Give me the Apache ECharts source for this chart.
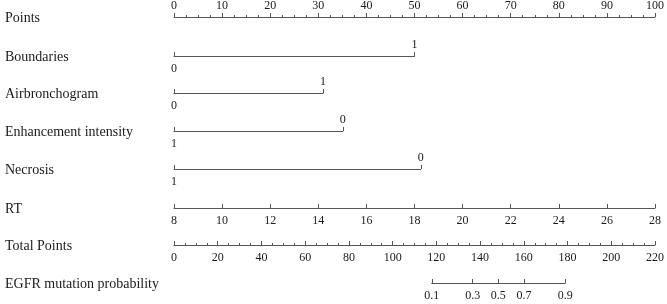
<!DOCTYPE html>
<html><head><meta charset="utf-8">
<script src="https://cdn.jsdelivr.net/npm/echarts@6/dist/echarts.min.js"></script>
<style>html,body{margin:0;padding:0;background:#fff}#c{width:667px;height:304px}</style>
</head><body><div id="c"></div>
<script>
// ---- data ----
const rowNames = ['Points','Boundaries','Airbronchogram','Enhancement intensity','Necrosis','RT','Total Points','EGFR mutation probability'];
const pointsRange = [0, 100];
const pointsInterval = 10;
const boundariesLevels = ['0','1'];
const boundariesPoints = [0, 50];
const airbronchogramLevels = ['0','1'];
const airbronchogramPoints = [0, 31.0];
const enhancementLevels = ['0','1'];
const enhancementPoints = [35.1, 0];
const necrosisLevels = ['0','1'];
const necrosisPoints = [51.3, 0];
const rtRange = [8, 28];          // RT 8 -> 0 points, 28 -> 100 points
const rtInterval = 2;
const totalPointsRange = [0, 220];
const totalInterval = 20;
const egfrProbLabels = ['0.1','0.3','0.5','0.7','0.9'];
const egfrTotalPoints = [117.9, 136.6, 148.3, 160.1, 178.9];

// ---- layout ----
const L = 174, W = 481;
const lineY = [17, 56, 93, 131, 169, 208, 245, 283];
const FONT = '"Liberation Serif", "Times New Roman", serif';
const LINE = '#555', TXT = '#1a1a1a';
const tickLbl = {fontFamily: FONT, fontSize: 12, color: TXT};

const grids = [], xAxes = [], yAxes = [];
function addGrid(left, top, width) {
  grids.push({left: left, top: top, width: width, height: 0, containLabel: false, outerBoundsMode: 'none'});
  const gi = grids.length - 1;
  yAxes.push({gridIndex: gi, type: 'value', show: false, min: 0, max: 1});
  return gi;
}

// Points axis
(function(){
  const gi = addGrid(L, lineY[0], W);
  xAxes.push({gridIndex: gi, type: 'value', position: 'top', min: pointsRange[0], max: pointsRange[1], interval: pointsInterval,
    axisLine: {show: true, lineStyle: {color: LINE, width: 1}},
    axisTick: {show: true, inside: false, length: 4, lineStyle: {color: LINE}},
    minorTick: {show: true, splitNumber: 4, length: 2, lineStyle: {color: LINE}},
    splitLine: {show: false},
    axisLabel: Object.assign({margin: 5}, tickLbl)});
})();

// categorical rows
function catRow(levels, pts, y) {
  const maxPts = Math.max(pts[0], pts[1]);
  const width = maxPts / (pointsRange[1] - pointsRange[0]) * W;
  const lowIdx = pts[0] <= pts[1] ? 0 : 1;
  const highIdx = 1 - lowIdx;
  const gi = addGrid(L, y, width);
  const common = {gridIndex: gi, type: 'value', min: 0, max: 1, interval: 1, inverse: lowIdx === 1, splitLine: {show: false}};
  xAxes.push(Object.assign({}, common, {position: 'bottom',
    axisLine: {show: true, onZero: false, lineStyle: {color: LINE, width: 1}},
    axisTick: {show: true, inside: true, length: 4, lineStyle: {color: LINE}},
    axisLabel: Object.assign({margin: 7, showMinLabel: true, showMaxLabel: true,
      formatter: v => (Math.round(v) === lowIdx ? levels[lowIdx] : '')}, tickLbl)}));
  xAxes.push(Object.assign({}, common, {position: 'top',
    axisLine: {show: false}, axisTick: {show: false},
    axisLabel: Object.assign({margin: 5.5, showMinLabel: true, showMaxLabel: true,
      formatter: v => (Math.round(v) === highIdx ? levels[highIdx] : '')}, tickLbl)}));
}
catRow(boundariesLevels, boundariesPoints, lineY[1]);
catRow(airbronchogramLevels, airbronchogramPoints, lineY[2]);
catRow(enhancementLevels, enhancementPoints, lineY[3]);
catRow(necrosisLevels, necrosisPoints, lineY[4]);

// RT
(function(){
  const gi = addGrid(L, lineY[5], W);
  xAxes.push({gridIndex: gi, type: 'value', position: 'bottom', min: rtRange[0], max: rtRange[1], interval: rtInterval,
    axisLine: {show: true, onZero: false, lineStyle: {color: LINE, width: 1}},
    axisTick: {show: true, inside: true, length: 4, lineStyle: {color: LINE}},
    splitLine: {show: false},
    axisLabel: Object.assign({margin: 7}, tickLbl)});
})();

// Total points
(function(){
  const gi = addGrid(L, lineY[6], W);
  xAxes.push({gridIndex: gi, type: 'value', position: 'bottom', min: totalPointsRange[0], max: totalPointsRange[1], interval: totalInterval,
    axisLine: {show: true, onZero: false, lineStyle: {color: LINE, width: 1}},
    axisTick: {show: true, inside: true, length: 4, lineStyle: {color: LINE}},
    minorTick: {show: true, splitNumber: 4, length: 2, lineStyle: {color: LINE}},
    splitLine: {show: false},
    axisLabel: Object.assign({margin: 7}, tickLbl)});
})();

// EGFR probability (positions in total-points units)
(function(){
  const tp = totalPointsRange[1] - totalPointsRange[0];
  const first = egfrTotalPoints[0], last = egfrTotalPoints[egfrTotalPoints.length - 1];
  const gi = addGrid(L + first / tp * W, lineY[7], (last - first) / tp * W);
  const lbl = v => {
    let bi = 0, bd = Infinity;
    egfrTotalPoints.forEach((p, i) => { const d = Math.abs(p - v); if (d < bd) { bd = d; bi = i; } });
    return bd < 0.5 ? egfrProbLabels[bi] : '';
  };
  xAxes.push({gridIndex: gi, type: 'value', position: 'bottom', min: first, max: last,
    axisLine: {show: true, onZero: false, lineStyle: {color: LINE, width: 1}},
    axisTick: {show: true, inside: true, length: 4, customValues: egfrTotalPoints, lineStyle: {color: LINE}},
    splitLine: {show: false},
    axisLabel: Object.assign({margin: 7, customValues: egfrTotalPoints, formatter: lbl}, tickLbl)});
})();

const graphics = rowNames.map((name, i) => ({
  type: 'text', x: 5, y: lineY[i] + 1.5,
  style: {text: name, font: '14px ' + FONT, fill: TXT, verticalAlign: 'middle', textAlign: 'left'}
}));

const chart = echarts.init(document.getElementById('c'), null, {renderer: 'canvas'});
chart.setOption({
  animation: false,
  backgroundColor: '#fff',
  grid: grids,
  xAxis: xAxes,
  yAxis: yAxes,
  graphic: graphics,
  series: []
});
</script></body></html>
